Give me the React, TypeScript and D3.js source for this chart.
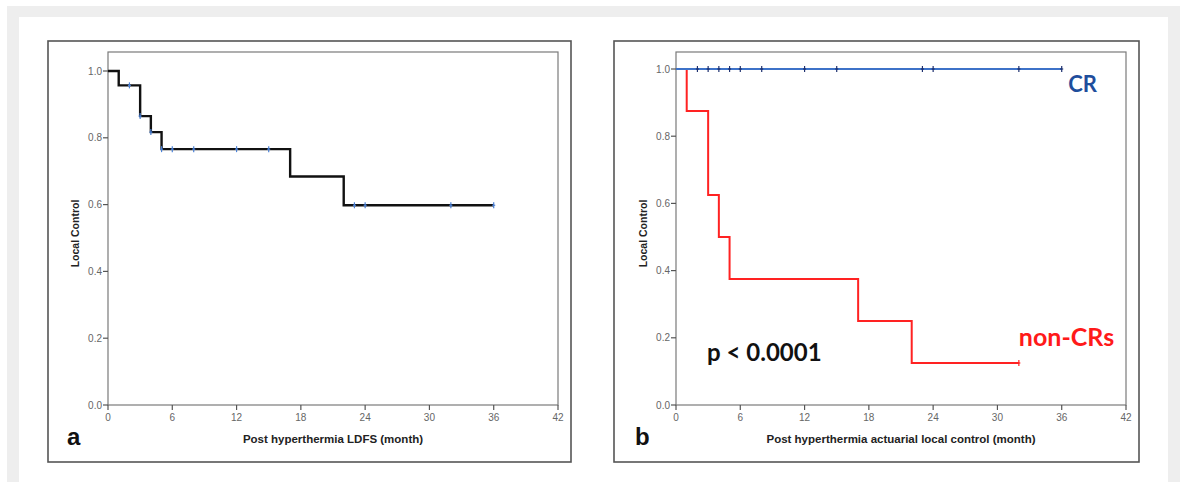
import React from 'react';
import * as d3 from 'd3';

// panel a: overall local disease-free survival
const stepsA = [
  { t: 0, s: 1.0 }, { t: 1, s: 0.957 }, { t: 3, s: 0.865 }, { t: 4, s: 0.817 },
  { t: 5, s: 0.766 }, { t: 17, s: 0.684 }, { t: 22, s: 0.598 }, { t: 36, s: 0.598 },
];
const censorA = [
  { t: 2, s: 0.957 }, { t: 3, s: 0.865 }, { t: 4, s: 0.817 }, { t: 5, s: 0.766 },
  { t: 6, s: 0.766 }, { t: 8, s: 0.766 }, { t: 12, s: 0.766 }, { t: 15, s: 0.766 },
  { t: 23, s: 0.598 }, { t: 24, s: 0.598 }, { t: 32, s: 0.598 }, { t: 36, s: 0.598 },
];

// panel b: CR vs non-CRs
const stepsCR = [{ t: 0, s: 1.0 }, { t: 36, s: 1.0 }];
const censorCR = [2, 3, 4, 5, 6, 8, 12, 15, 23, 24, 32, 36];
const stepsNonCR = [
  { t: 0, s: 1.0 }, { t: 1, s: 0.875 }, { t: 3, s: 0.625 }, { t: 4, s: 0.5 },
  { t: 5, s: 0.375 }, { t: 17, s: 0.25 }, { t: 22, s: 0.125 }, { t: 32, s: 0.125 },
];

const xTicks = [0, 6, 12, 18, 24, 30, 36, 42];
const yTicks = [0, 0.2, 0.4, 0.6, 0.8, 1.0];

type Pt = { t: number; s: number };

function Panel(props: {
  left: number; right: number; top: number; bottom: number; y1: number;
  xLabel: string; letter: string; children: (x: d3.ScaleLinear<number, number>, y: d3.ScaleLinear<number, number>) => React.ReactNode;
}) {
  const { left, right, top, bottom, y1 } = props;
  const x = d3.scaleLinear().domain([0, 42]).range([left, right]);
  const y = d3.scaleLinear().domain([0, 1]).range([bottom, y1]);
  return (
    <g>
      <rect x={left} y={top} width={right - left} height={bottom - top} fill="none" stroke="#7a7a7a" strokeWidth={1.2} />
      {xTicks.map(t => (
        <g key={'x' + t}>
          <line x1={x(t)} x2={x(t)} y1={bottom} y2={bottom + 5} stroke="#555" strokeWidth={1.2} />
          <text x={x(t)} y={bottom + 16} textAnchor="middle" fontSize={10} fill="#666" fontFamily="Liberation Sans, Arial">{t}</text>
        </g>
      ))}
      {yTicks.map(v => (
        <g key={'y' + v}>
          <line x1={left - 5} x2={left} y1={y(v)} y2={y(v)} stroke="#555" strokeWidth={1.2} />
          <text x={left - 6} y={y(v) + 3.5} textAnchor="end" fontSize={10} fill="#666" fontFamily="Liberation Sans, Arial">{v.toFixed(1)}</text>
        </g>
      ))}
      <text transform={`translate(${left - 29},${(top + bottom) / 2 + 5}) rotate(-90)`} textAnchor="middle" fontSize={10.5} fontWeight="bold" fill="#222" fontFamily="Liberation Sans, Arial">Local Control</text>
      <text x={(left + right) / 2} y={bottom + 38} textAnchor="middle" fontSize={11.5} fontWeight="bold" fill="#222" fontFamily="Liberation Sans, Arial">{props.xLabel}</text>
      <text x={left - 41} y={bottom + 40} fontSize={24} fontWeight="bold" fill="#111" fontFamily="Liberation Sans, Arial">{props.letter}</text>
      {props.children(x, y)}
    </g>
  );
}

function stepPath(x: d3.ScaleLinear<number, number>, y: d3.ScaleLinear<number, number>, pts: Pt[]) {
  return d3.line<Pt>().x(d => x(d.t)).y(d => y(d.s)).curve(d3.curveStepAfter)(pts) || '';
}

function Censor({ cx, cy, color }: { cx: number; cy: number; color: string }) {
  return (
    <g stroke={color} strokeWidth={1.2}>
      <line x1={cx} x2={cx} y1={cy - 3} y2={cy + 3} />
      <line x1={cx - 1.5} x2={cx + 1.5} y1={cy} y2={cy} />
    </g>
  );
}

export default function App() {
  const W = 1185, H = 482;
  return (
    <svg width={W} height={H} style={{ position: 'absolute', left: 0, top: 0 }}>
      <rect x={0} y={0} width={W} height={H} fill="#ffffff" />
      <rect x={7} y={6} width={1173} height={H} fill="#eeeeee" />
      <rect x={19} y={17} width={1149} height={H} fill="#ffffff" />

      <rect x={48} y={41} width={523} height={421} fill="#fff" stroke="#555" strokeWidth={1.6} />
      <rect x={614} y={41} width={525} height={421} fill="#fff" stroke="#555" strokeWidth={1.6} />

      <Panel left={108} right={558} top={52} bottom={405} y1={71} xLabel="Post hyperthermia LDFS (month)" letter="a">
        {(x, y) => (
          <g>
            <path d={stepPath(x, y, stepsA)} fill="none" stroke="#111" strokeWidth={2.4} />
            {censorA.map((c, i) => <Censor key={i} cx={x(c.t)} cy={y(c.s)} color="#4a80d6" />)}
          </g>
        )}
      </Panel>

      <Panel left={676} right={1126} top={52} bottom={405} y1={69} xLabel="Post hyperthermia actuarial local control (month)" letter="b">
        {(x, y) => (
          <g>
            <path d={stepPath(x, y, stepsNonCR)} fill="none" stroke="#ff2222" strokeWidth={2} />
            <path d={stepPath(x, y, stepsCR)} fill="none" stroke="#3d72c8" strokeWidth={2} />
            {censorCR.map((t, i) => <Censor key={i} cx={x(t)} cy={y(1)} color="#1e3170" />)}
            <Censor cx={x(32)} cy={y(0.125)} color="#ff2222" />
            <text x={x(36.6)} y={y(1) + 23} fontSize={22} fontWeight="bold" fill="#1f4e9c" fontFamily="Lato, Open Sans">CR</text>
            <text x={x(32)} y={y(0.2) + 8} fontSize={25} fontWeight="bold" fill="#ff1a1a" fontFamily="Lato, Open Sans">non-CRs</text>
            <text x={x(2.9)} y={y(0.13)} fontSize={24} fontWeight="bold" fill="#111" fontFamily="Lato, Open Sans">p &lt; 0.0001</text>
          </g>
        )}
      </Panel>
    </svg>
  );
}
